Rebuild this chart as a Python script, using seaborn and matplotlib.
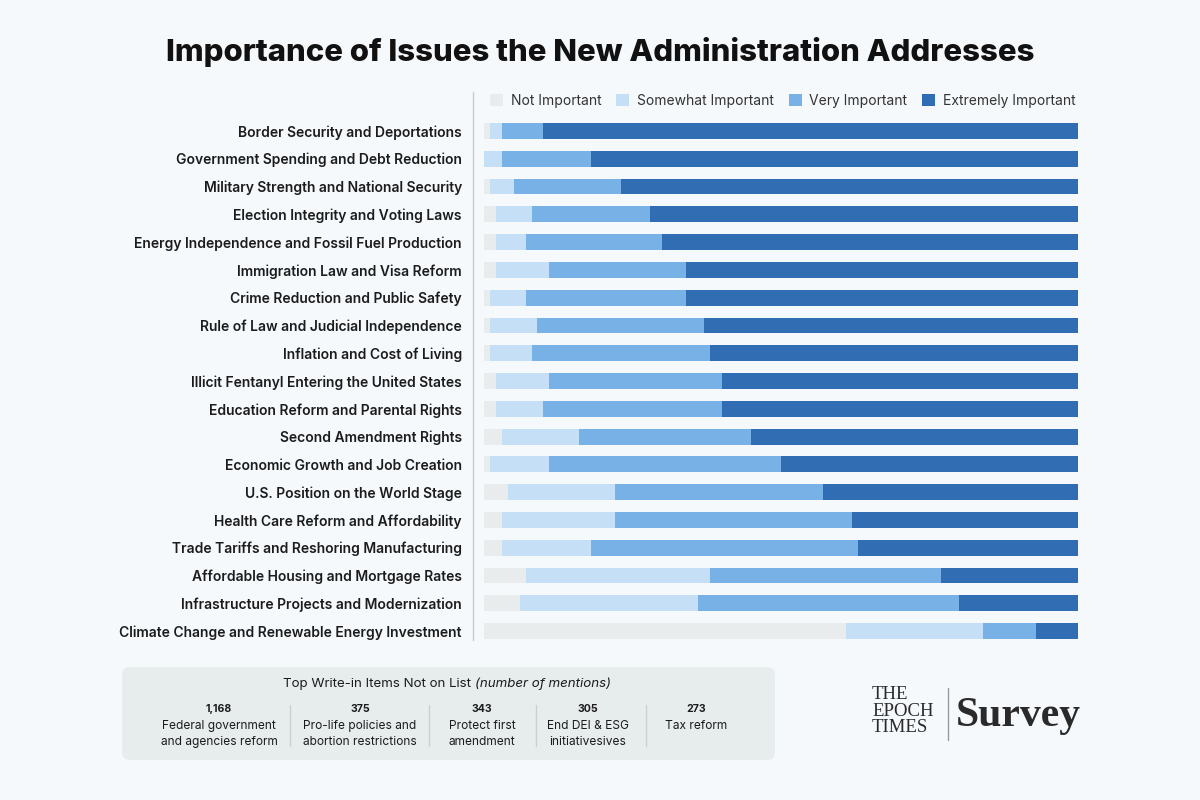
import matplotlib
matplotlib.use("Agg")
import matplotlib.pyplot as plt
import seaborn as sns
import pandas as pd
from matplotlib.patches import Patch, FancyBboxPatch

# ---------------- data ----------------
categories = [
    "Border Security and Deportations",
    "Government Spending and Debt Reduction",
    "Military Strength and National Security",
    "Election Integrity and Voting Laws",
    "Energy Independence and Fossil Fuel Production",
    "Immigration Law and Visa Reform",
    "Crime Reduction and Public Safety",
    "Rule of Law and Judicial Independence",
    "Inflation and Cost of Living",
    "Illicit Fentanyl Entering the United States",
    "Education Reform and Parental Rights",
    "Second Amendment Rights",
    "Economic Growth and Job Creation",
    "U.S. Position on the World Stage",
    "Health Care Reform and Affordability",
    "Trade Tariffs and Reshoring Manufacturing",
    "Affordable Housing and Mortgage Rates",
    "Infrastructure Projects and Modernization",
    "Climate Change and Renewable Energy Investment",
]
not_important = [1, 0, 1, 2, 2, 2, 1, 1, 1, 2, 2, 3, 1, 4, 3, 3, 7, 6, 61]
somewhat_important = [2, 3, 4, 6, 5, 9, 6, 8, 7, 9, 8, 13, 10, 18, 19, 15, 31, 30, 23]
very_important = [7, 15, 18, 20, 23, 23, 27, 28, 30, 29, 30, 29, 39, 35, 40, 45, 39, 44, 9]
extremely_important = [90, 82, 77, 72, 70, 66, 66, 63, 62, 60, 60, 55, 50, 43, 38, 37, 23, 20, 7]

series_names = ["Not Important", "Somewhat Important", "Very Important", "Extremely Important"]
series_colors = ["#e8ecec", "#c5dff6", "#77b1e6", "#306db3"]

writein_counts = ["1,168", "375", "343", "305", "273"]
writein_labels = [
    "Federal government\nand agencies reform",
    "Pro-life policies and\nabortion restrictions",
    "Protect first\namendment",
    "End DEI & ESG\ninitiativesives",
    "Tax reform",
]

# ---------------- style ----------------
sns.set_theme(style="white")
plt.rcParams["font.family"] = ["Inter", "DejaVu Sans"]
BG = "#f5f9fc"
TXT = "#1c1c1c"

fig = plt.figure(figsize=(12, 8), dpi=100, facecolor=BG)

df = pd.DataFrame({
    "category": categories,
    "c1": not_important,
    "s2": somewhat_important,
    "s3": very_important,
    "s4": extremely_important,
})
df["cum1"] = df["c1"]
df["cum2"] = df["cum1"] + df["s2"]
df["cum3"] = df["cum2"] + df["s3"]
df["cum4"] = df["cum3"] + df["s4"]

ax = fig.add_axes([473 / 1200, 1 - 640 / 800, (1078 - 473) / 1200, (640 - 92) / 800])
ax.set_facecolor(BG)
for col, color in zip(["cum4", "cum3", "cum2", "cum1"], series_colors[::-1]):
    sns.barplot(data=df, x=col, y="category", orient="h", color=color,
                saturation=1, width=0.57, ax=ax, linewidth=0, order=categories)

ax.set_xlim(-1.85, 100)
ax.set_ylim(18.32, -1.40)
ax.set_xlabel("")
ax.set_ylabel("")
ax.set_xticks([])
for s in ["top", "right", "bottom"]:
    ax.spines[s].set_visible(False)
ax.spines["left"].set_color("#c8cccc")
ax.spines["left"].set_linewidth(1)
ax.tick_params(axis="y", length=0, pad=8)
for lab in ax.get_yticklabels():
    lab.set_fontsize(10.0)
    lab.set_fontweight("semibold")
    lab.set_color(TXT)

handles = [Patch(facecolor=c, edgecolor="none") for c in series_colors]
fig.legend(handles, series_names, ncol=4, loc="upper right",
           bbox_to_anchor=(1081 / 1200, 1 - 88 / 800), frameon=False,
           fontsize=10.0, handlelength=0.95, handleheight=0.95,
           handletextpad=0.55, columnspacing=1.05, borderaxespad=0,
           labelcolor="#333333")

# ---------------- title ----------------
fig.text(600 / 1200, 1 - 52 / 800, "Importance of Issues the New Administration Addresses",
         ha="center", va="center", fontsize=22.4, fontweight="heavy", color="#111111")

# ---------------- overlay (pixel coordinates) ----------------
ov = fig.add_axes([0, 0, 1, 1], zorder=-1)
ov.set_xlim(0, 1200)
ov.set_ylim(800, 0)
ov.axis("off")

box = FancyBboxPatch((122, 667), 653, 93, boxstyle="round,pad=0,rounding_size=8",
                     facecolor="#e7eded", edgecolor="none")
ov.add_patch(box)
ov.text(471, 684, "Top Write-in Items Not on List", ha="right", va="center",
        fontsize=9.6, color=TXT)
ov.text(475, 684, "(number of mentions)", ha="left", va="center",
        fontsize=9.6, color=TXT, style="italic")

centers = [219, 360, 482, 588, 696]
for cx, n, lbl in zip(centers, writein_counts, writein_labels):
    ov.text(cx, 709, n, ha="center", va="center", fontsize=7.6,
            fontweight="bold", color=TXT)
    ov.text(cx, 720, lbl, ha="center", va="top", fontsize=8.6,
            color=TXT, linespacing=1.4)
for sx in [290, 429, 536, 646]:
    ov.plot([sx, sx], [705, 746], color="#c9d0d0", lw=1)

# logo
ov.text(872, 686, "THE\nEPOCH\nTIMES", ha="left", va="top",
        fontsize=13.5, family="Liberation Serif", color="#2a2a2a", linespacing=0.98)
ov.plot([948, 948], [688, 740], color="#9a9a9a", lw=1)
ov.text(956, 716, "Survey", ha="left", va="center", fontsize=30,
        family="Liberation Serif", fontweight="bold", color="#2a2a2a")

fig.savefig("out.png", dpi=100, facecolor=BG)
